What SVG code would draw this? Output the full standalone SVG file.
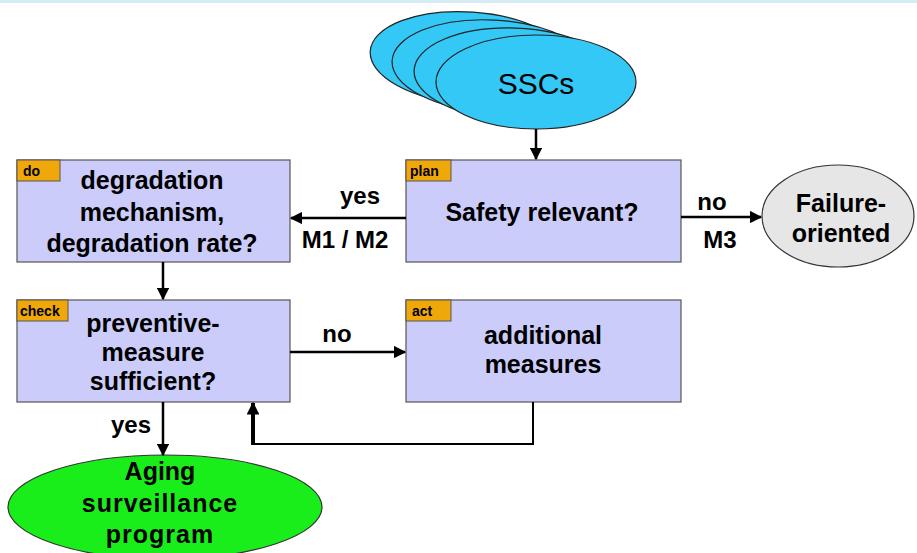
<svg xmlns="http://www.w3.org/2000/svg" width="917" height="553" viewBox="0 0 917 553">
<defs>
<marker id="ah" viewBox="0 0 10 10" refX="9" refY="5" markerWidth="5" markerHeight="5" orient="auto" markerUnits="strokeWidth">
<path d="M0,0 L10,5 L0,10 z" fill="#000"/>
</marker>
<marker id="ah2" viewBox="0 0 10 10" refX="9" refY="5" markerWidth="3.2" markerHeight="3.2" orient="auto" markerUnits="strokeWidth">
<path d="M0,0 L10,5 L0,10 z" fill="#000"/>
</marker>
</defs>
<style>
.box{fill:#ccccfa;stroke:#555;stroke-width:1.2}
.tag{fill:#f0a70a;stroke:#555;stroke-width:1}
.tagt{font-family:"Liberation Sans",Arial,sans-serif;font-weight:bold;font-size:14px;fill:#000}
.t{font-family:"Liberation Sans",Arial,sans-serif;font-weight:bold;font-size:25px;fill:#000;text-anchor:middle}
.lbl{font-family:"Liberation Sans",Arial,sans-serif;font-weight:bold;font-size:24px;fill:#000;text-anchor:middle}
.c{fill:none;stroke:#000;stroke-width:2.5}
.ssc{fill:#33c8f5;stroke:#222;stroke-width:1.2}
</style>
<rect x="0" y="0" width="917" height="3" fill="#d6ecf4"/>

<g id="ssc">
<ellipse class="ssc" cx="470" cy="58" rx="100" ry="46" transform="rotate(4 470 58)"/>
<ellipse class="ssc" cx="492" cy="66" rx="100" ry="46" transform="rotate(3 492 66)"/>
<ellipse class="ssc" cx="514" cy="74" rx="100" ry="46" transform="rotate(2 514 74)"/>
<ellipse class="ssc" cx="536" cy="82" rx="100" ry="47"/>
<text x="536" y="94" font-family="'Liberation Sans',Arial,sans-serif" font-size="30" text-anchor="middle" fill="#000">SSCs</text>
</g>

<g id="plan">
<rect class="box" x="406" y="160" width="275" height="102"/>
<rect class="tag" x="406" y="160" width="45" height="21"/>
<text class="tagt" x="410" y="176">plan</text>
<text class="t" x="542" y="221" font-size="24">Safety relevant?</text>
</g>

<g id="do">
<rect class="box" x="17" y="160" width="273" height="102"/>
<rect class="tag" x="17" y="160" width="43" height="21"/>
<text class="tagt" x="23" y="176">do</text>
<text class="t" x="152" y="189">degradation</text>
<text class="t" x="152" y="221">mechanism,</text>
<text class="t" x="152" y="252">degradation rate?</text>
</g>

<g id="failure">
<ellipse cx="838" cy="216" rx="76" ry="51" fill="#e6e6e6" stroke="#333" stroke-width="1.2"/>
<text class="t" x="841" y="212">Failure-</text>
<text class="t" x="841" y="242">oriented</text>
</g>

<g id="check">
<rect class="box" x="17" y="300" width="273" height="102"/>
<rect class="tag" x="17" y="300" width="51" height="21"/>
<text class="tagt" x="20" y="316">check</text>
<text class="t" x="153" y="332">preventive-</text>
<text class="t" x="153" y="361">measure</text>
<text class="t" x="153" y="390">sufficient?</text>
</g>

<g id="act">
<rect class="box" x="406" y="300" width="275" height="102"/>
<rect class="tag" x="406" y="300" width="45" height="21"/>
<text class="tagt" x="412" y="316">act</text>
<text class="t" x="543" y="344">additional</text>
<text class="t" x="543" y="373">measures</text>
</g>

<g id="asp">
<ellipse cx="165" cy="507" rx="157" ry="52" fill="#1aee1a" stroke="#333" stroke-width="1.2"/>
<text class="t" x="160" y="480" font-size="26">Aging</text>
<text class="t" x="160" y="512" font-size="26" letter-spacing="1">surveillance</text>
<text class="t" x="160" y="543" font-size="26" letter-spacing="1">program</text>
</g>

<g id="connectors">
<line class="c" x1="536" y1="129" x2="536" y2="159" marker-end="url(#ah)"/>
<line class="c" x1="406" y1="218" x2="291" y2="218" marker-end="url(#ah)"/>
<line class="c" x1="681" y1="217" x2="761" y2="217" marker-end="url(#ah)"/>
<line class="c" x1="163" y1="262" x2="163" y2="299" marker-end="url(#ah)"/>
<line class="c" x1="290" y1="352" x2="405" y2="352" marker-end="url(#ah)"/>
<line class="c" x1="163" y1="402" x2="163" y2="455" marker-end="url(#ah)"/>
<polyline points="533,402 533,444 253,444" fill="none" stroke="#000" stroke-width="2"/>
<line x1="253" y1="445" x2="253" y2="403" stroke="#000" stroke-width="4" marker-end="url(#ah2)"/>
<text class="lbl" x="360" y="204">yes</text>
<text class="lbl" x="345" y="248">M1 / M2</text>
<text class="lbl" x="712" y="210">no</text>
<text class="lbl" x="720" y="248">M3</text>
<text class="lbl" x="337" y="342">no</text>
<text class="lbl" x="131" y="433">yes</text>
</g>
</svg>
